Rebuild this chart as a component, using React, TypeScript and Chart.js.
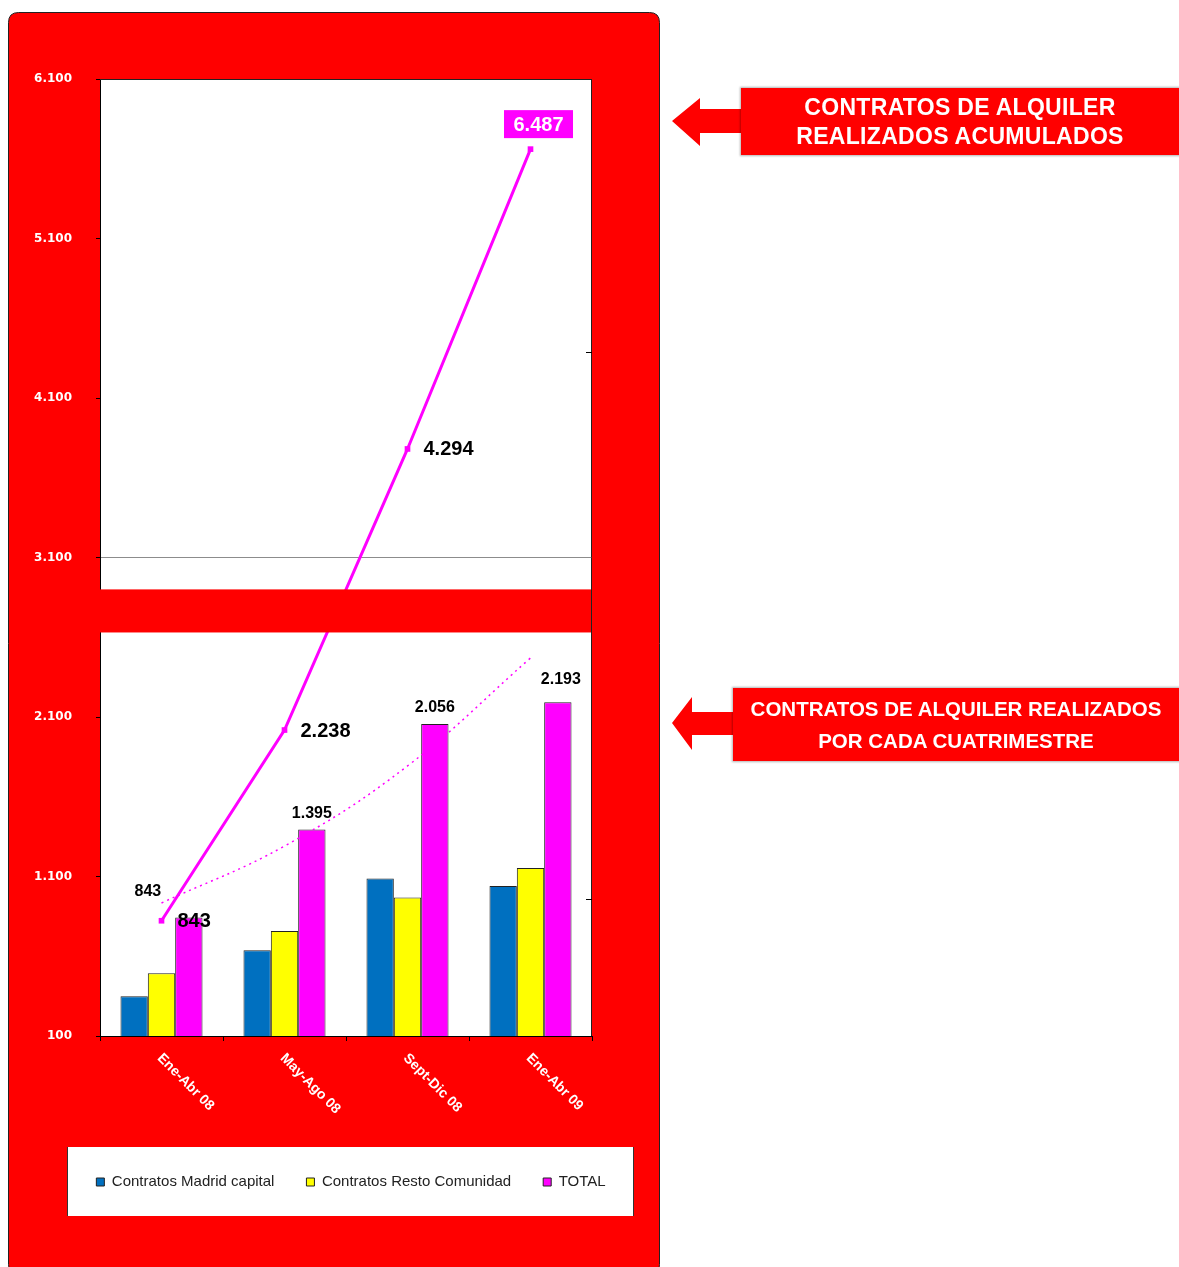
import React, { useEffect, useRef } from 'react';
import { Chart, registerables } from 'chart.js';

Chart.register(...registerables);

// ---- data ----
const categories = ['Ene-Abr 08', 'May-Ago 08', 'Sept-Dic 08', 'Ene-Abr 09'];
const seriesNames = ['Contratos Madrid capital', 'Contratos Resto Comunidad', 'TOTAL'];
const madridCapital = [350, 637, 1088, 1040];
const restoComunidad = [493, 758, 968, 1153];
const totalCuatrimestre = [843, 1395, 2056, 2193];
const totalAcumulado = [843, 2238, 4294, 6487];
const tendencia = [934, 1291, 1793, 2470];
const yTicks = [100, 1100, 2100, 3100, 4100, 5100, 6100];
const y1Ticks = [1000, 5000];
const breakBand = [2630, 2900];

const fmt = (v: number) => String(Math.round(v)).replace(/\B(?=(\d{3})+(?!\d))/g, '.');

const BLUE = '#0070C0';
const YELLOW = '#FFFF00';
const MAGENTA = '#FF00FF';
const RED = '#FF0000';
const SANS = '"Liberation Sans", Arial, sans-serif';

const barLabelOffsets = [
  { dx: -41, dy: -26 },
  { dx: 0, dy: -16 },
  { dx: 0, dy: -16 },
  { dx: 3, dy: -23 },
];

const decorPlugin = {
  id: 'decor',
  beforeDraw(chart: any) {
    const { ctx, chartArea: a } = chart;
    ctx.save();
    // red panel
    const x = 8.5, y = 12.5, w = 651, h = 1262, r = 10;
    ctx.beginPath();
    ctx.moveTo(x + r, y);
    ctx.lineTo(x + w - r, y);
    ctx.quadraticCurveTo(x + w, y, x + w, y + r);
    ctx.lineTo(x + w, y + h - r);
    ctx.quadraticCurveTo(x + w, y + h, x + w - r, y + h);
    ctx.lineTo(x + r, y + h);
    ctx.quadraticCurveTo(x, y + h, x, y + h - r);
    ctx.lineTo(x, y + r);
    ctx.quadraticCurveTo(x, y, x + r, y);
    ctx.closePath();
    ctx.fillStyle = RED;
    ctx.fill();
    ctx.strokeStyle = '#222';
    ctx.lineWidth = 1;
    ctx.stroke();
    // plot background
    ctx.fillStyle = '#fff';
    ctx.fillRect(a.left, a.top, a.right - a.left, a.bottom - a.top);
    // legend box
    ctx.fillStyle = '#fff';
    ctx.fillRect(67, 1147, 567, 69);
    ctx.strokeStyle = '#333';
    ctx.beginPath();
    ctx.moveTo(67.5, 1147);
    ctx.lineTo(67.5, 1216);
    ctx.moveTo(633.5, 1147);
    ctx.lineTo(633.5, 1216);
    ctx.stroke();
    ctx.restore();
  },
  afterDatasetsDraw(chart: any) {
    const { ctx, chartArea: a, scales } = chart;
    ctx.save();
    // axis break band
    const yTop = scales.y.getPixelForValue(breakBand[1]);
    const yBot = scales.y.getPixelForValue(breakBand[0]);
    ctx.fillStyle = RED;
    ctx.fillRect(a.left, yTop, a.right - a.left, yBot - yTop);
    // frame (top + right)
    ctx.strokeStyle = '#222';
    ctx.lineWidth = 1;
    ctx.beginPath();
    ctx.moveTo(a.left, a.top + 0.5);
    ctx.lineTo(a.right, a.top + 0.5);
    ctx.moveTo(a.right - 0.5, a.top);
    ctx.lineTo(a.right - 0.5, a.bottom);
    ctx.stroke();
    // inward ticks of secondary axis
    ctx.strokeStyle = '#000';
    ctx.beginPath();
    y1Ticks.forEach((v) => {
      const py = Math.round(scales.y1.getPixelForValue(v)) + 0.5;
      ctx.moveTo(a.right - 6, py);
      ctx.lineTo(a.right, py);
    });
    ctx.stroke();
    ctx.restore();
  },
  afterDraw(chart: any) {
    const { ctx, chartArea: a, scales } = chart;
    ctx.save();
    // category labels, rotated 45° clockwise
    ctx.fillStyle = '#fff';
    ctx.font = `bold 14px ${SANS}`;
    ctx.textAlign = 'left';
    ctx.textBaseline = 'middle';
    categories.forEach((c, i) => {
      const px = scales.x.getPixelForValue(i);
      ctx.save();
      ctx.translate(px - 2, a.bottom + 20);
      ctx.rotate(Math.PI / 4);
      ctx.fillText(c, 0, 0);
      ctx.restore();
    });
    // bar labels (TOTAL per cuatrimestre)
    const barMeta = chart.getDatasetMeta(2);
    ctx.fillStyle = '#000';
    ctx.font = `bold 16px ${SANS}`;
    ctx.textAlign = 'center';
    barMeta.data.forEach((el: any, i: number) => {
      const o = barLabelOffsets[i];
      ctx.fillText(fmt(totalCuatrimestre[i]), el.x + o.dx, el.y + o.dy);
    });
    // accumulated line labels
    const lineMeta = chart.getDatasetMeta(3);
    ctx.font = `bold 20px ${SANS}`;
    lineMeta.data.forEach((el: any, i: number) => {
      const txt = fmt(totalAcumulado[i]);
      if (i === totalAcumulado.length - 1) {
        const cx = el.x + 8, cy = el.y - 25;
        ctx.fillStyle = MAGENTA;
        ctx.fillRect(cx - 34.5, cy - 14, 69, 28);
        ctx.fillStyle = '#fff';
        ctx.textAlign = 'center';
        ctx.fillText(txt, cx, cy + 1);
      } else {
        ctx.fillStyle = '#000';
        ctx.textAlign = 'left';
        ctx.fillText(txt, el.x + 16, el.y + 1);
      }
    });
    ctx.restore();
  },
};

function Callout(props: { top: number; boxLeft: number; boxHeight: number; arrow: any; lines: string[]; size: number; lineH: number; spacing: number }) {
  const { top, boxLeft, boxHeight, arrow, lines, size, lineH, spacing } = props;
  return (
    <>
      <svg
        style={{ position: 'absolute', left: arrow.left, top: arrow.top }}
        width={arrow.w}
        height={arrow.h}
      >
        <polygon points={arrow.points} fill={RED} />
      </svg>
      <div
        style={{
          position: 'absolute',
          left: boxLeft,
          top,
          width: 1179 - boxLeft,
          height: boxHeight,
          background: RED,
          boxShadow: '0 0 2px 1px rgba(0,0,0,0.3)',
          display: 'flex',
          flexDirection: 'column',
          alignItems: 'center',
          justifyContent: 'center',
          color: '#fff',
          fontFamily: SANS,
          fontWeight: 'bold',
          fontSize: size,
          letterSpacing: spacing,
          lineHeight: `${lineH}px`,
          whiteSpace: 'nowrap',
        }}
      >
        {lines.map((l) => (
          <div key={l}>{l}</div>
        ))}
      </div>
    </>
  );
}

export default function App() {
  const ref = useRef<HTMLCanvasElement>(null);

  useEffect(() => {
    if (!ref.current) return;
    const chart = new Chart(ref.current, {
      type: 'bar',
      data: {
        labels: categories,
        datasets: [
          {
            type: 'bar',
            label: seriesNames[0],
            data: madridCapital,
            backgroundColor: BLUE,
            borderColor: '#222',
            borderWidth: 1,
            yAxisID: 'y',
            order: 1,
          },
          {
            type: 'bar',
            label: seriesNames[1],
            data: restoComunidad,
            backgroundColor: YELLOW,
            borderColor: '#222',
            borderWidth: 1,
            yAxisID: 'y',
            order: 1,
          },
          {
            type: 'bar',
            label: seriesNames[2],
            data: totalCuatrimestre,
            backgroundColor: MAGENTA,
            borderColor: '#222',
            borderWidth: 1,
            yAxisID: 'y',
            order: 1,
          },
          {
            type: 'line',
            label: 'TOTAL acumulado',
            data: totalAcumulado,
            borderColor: MAGENTA,
            backgroundColor: MAGENTA,
            borderWidth: 3,
            pointStyle: 'rect',
            pointRadius: 4,
            pointBorderWidth: 0,
            tension: 0,
            yAxisID: 'y1',
            order: 0,
          },
          {
            type: 'line',
            label: 'Tendencia',
            data: tendencia,
            borderColor: MAGENTA,
            borderWidth: 1.5,
            borderDash: [2, 4],
            pointRadius: 0,
            tension: 0.4,
            yAxisID: 'y',
            order: 0,
          },
        ],
      } as any,
      options: {
        animation: false,
        responsive: false,
        maintainAspectRatio: false,
        layout: { padding: { left: 8, right: 6, top: 79, bottom: 67.5 } },
        datasets: { bar: { categoryPercentage: 0.667, barPercentage: 1 } },
        plugins: {
          legend: {
            position: 'bottom',
            fullSize: true,
            labels: {
              boxWidth: 8,
              boxHeight: 8,
              padding: 32,
              color: '#222',
              font: { family: SANS, size: 15 },
              filter: (item: any) => item.datasetIndex < 3,
            },
          },
          tooltip: { enabled: false },
        },
        scales: {
          x: {
            offset: true,
            grid: { drawOnChartArea: false, tickColor: '#000', tickLength: 5, offset: true },
            border: { display: true, color: '#000' },
            ticks: { display: false },
            afterFit: (s: any) => {
              s.height = 106.5;
            },
          },
          y: {
            position: 'left',
            min: 100,
            max: 6100,
            afterBuildTicks: (s: any) => {
              s.ticks = yTicks.map((v) => ({ value: v }));
            },
            afterFit: (s: any) => {
              s.width = 92;
            },
            border: { display: true, color: '#000' },
            grid: {
              color: (c: any) => (c.tick && c.tick.value === 3100 ? '#8c8c8c' : 'rgba(0,0,0,0)'),
              tickColor: '#000',
              tickLength: 4,
            },
            ticks: {
              color: '#fff',
              padding: 24,
              font: { family: '"DejaVu Sans"', size: 12, weight: 'bold' },
              callback: (v: any) => fmt(Number(v)),
            },
          },
          y1: {
            display: true,
            position: 'right',
            min: 0,
            max: 7000,
            grid: { display: false },
            border: { display: false },
            ticks: { display: false },
            afterFit: (s: any) => {
              s.width = 102;
            },
          },
        },
      } as any,
      plugins: [decorPlugin],
    });
    return () => chart.destroy();
  }, []);

  return (
    <div style={{ position: 'absolute', left: 0, top: 0, width: 1179, height: 1267, overflow: 'hidden', background: '#fff' }}>
      <canvas ref={ref} width={700} height={1267} style={{ position: 'absolute', left: 0, top: 0, display: 'block' }} />
      <Callout
        top={88}
        boxLeft={741}
        boxHeight={67}
        size={23}
        lineH={29}
        spacing={0.3}
        lines={['CONTRATOS DE ALQUILER', 'REALIZADOS ACUMULADOS']}
        arrow={{ left: 670, top: 96, w: 72, h: 52, points: '2,25 30,2 30,13 72,13 72,37 30,37 30,50' }}
      />
      <Callout
        top={688}
        boxLeft={733}
        boxHeight={73}
        size={20.5}
        lineH={32}
        spacing={0}
        lines={['CONTRATOS DE ALQUILER REALIZADOS', 'POR CADA CUATRIMESTRE']}
        arrow={{ left: 670, top: 694, w: 64, h: 60, points: '2,29 22,3 22,18 64,18 64,41 22,41 22,56' }}
      />
    </div>
  );
}
